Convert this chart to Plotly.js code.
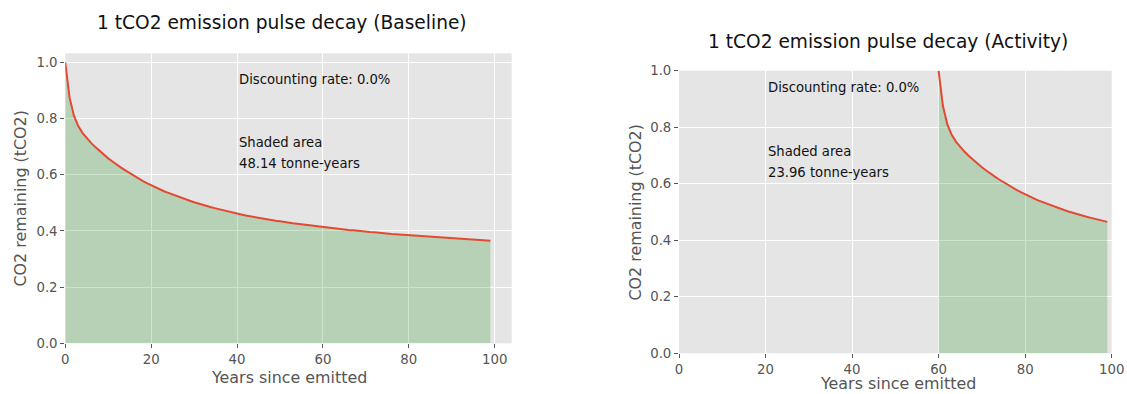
<!DOCTYPE html>
<html>
<head>
<meta charset="utf-8">
<script src="https://cdn.plot.ly/plotly-3.0.1.min.js"></script>
<style>html,body{margin:0;padding:0;background:#fff;}#chart{width:1127px;height:394px;}</style>
</head>
<body>
<div id="chart"></div>
<script>
// Baseline: years since emission and tCO2 remaining
const baselineYears = [0,1,2,3,4,5,6,7,8,9,10,11,12,13,14,15,16,17,18,19,20,21,22,23,24,25,26,27,28,29,30,31,32,33,34,35,36,37,38,39,40,41,42,43,44,45,46,47,48,49,50,51,52,53,54,55,56,57,58,59,60,61,62,63,64,65,66,67,68,69,70,71,72,73,74,75,76,77,78,79,80,81,82,83,84,85,86,87,88,89,90,91,92,93,94,95,96,97,98,99];
const baselineRemaining = [1.000,0.875,0.811,0.774,0.749,0.729,0.713,0.698,0.684,0.671,0.658,0.647,0.635,0.625,0.615,0.605,0.596,0.587,0.578,0.570,0.562,0.555,0.548,0.541,0.535,0.529,0.523,0.517,0.512,0.507,0.502,0.497,0.492,0.488,0.484,0.480,0.476,0.472,0.468,0.465,0.461,0.458,0.455,0.452,0.449,0.446,0.444,0.441,0.438,0.436,0.434,0.431,0.429,0.427,0.425,0.423,0.421,0.419,0.417,0.415,0.413,0.412,0.410,0.408,0.407,0.405,0.403,0.402,0.400,0.399,0.397,0.396,0.395,0.393,0.392,0.391,0.389,0.388,0.387,0.386,0.385,0.383,0.382,0.381,0.380,0.379,0.378,0.377,0.376,0.375,0.374,0.372,0.371,0.370,0.369,0.369,0.368,0.367,0.366,0.365];

// Activity: pulse emitted at year 60
const activityYears = [60,61,62,63,64,65,66,67,68,69,70,71,72,73,74,75,76,77,78,79,80,81,82,83,84,85,86,87,88,89,90,91,92,93,94,95,96,97,98,99];
const activityRemaining = [1.000,0.875,0.811,0.774,0.749,0.729,0.713,0.698,0.684,0.671,0.658,0.647,0.635,0.625,0.615,0.605,0.596,0.587,0.578,0.570,0.562,0.555,0.548,0.541,0.535,0.529,0.523,0.517,0.512,0.507,0.502,0.497,0.492,0.488,0.484,0.480,0.476,0.472,0.468,0.465];

const titles = ["1 tCO2 emission pulse decay (Baseline)", "1 tCO2 emission pulse decay (Activity)"];
const xTitle = "Years since emitted";
const yTitle = "CO2 remaining (tCO2)";
const discountText = "Discounting rate: 0.0%";
const shadedLabel = "Shaded area";
const shadedValues = ["48.14 tonne-years", "23.96 tonne-years"];
const xTickVals = [0,20,40,60,80,100];
const yTickVals = [0,0.2,0.4,0.6,0.8,1.0];

const FONT = "DejaVu Sans, Liberation Sans, sans-serif";
const lineColor = "#E24A33";
const fillColor = "rgba(0,128,0,0.2)";

const traces = [
  {x: baselineYears, y: baselineRemaining, xaxis: "x", yaxis: "y", type: "scatter", mode: "lines",
   line: {color: lineColor, width: 2}, fill: "tozeroy", fillcolor: fillColor, hoverinfo: "skip"},
  {x: activityYears, y: activityRemaining, xaxis: "x2", yaxis: "y2", type: "scatter", mode: "lines",
   line: {color: lineColor, width: 2}, fill: "tozeroy", fillcolor: fillColor, hoverinfo: "skip"}
];

function xax(domain, range, anchor) {
  return {domain: domain, range: range, anchor: anchor, tickvals: xTickVals, ticks: "outside", ticklen: 4,
    tickcolor: "#555", tickfont: {family: FONT, size: 13.3, color: "#555"}, gridcolor: "#fff", gridwidth: 1,
    showline: false, zeroline: false, fixedrange: true};
}
function yax(domain, range, anchor) {
  return {domain: domain, range: range, anchor: anchor, tickvals: yTickVals, tickformat: ".1f", ticks: "outside", ticklen: 4,
    tickcolor: "#555", tickfont: {family: FONT, size: 13.3, color: "#555"}, gridcolor: "#fff", gridwidth: 1,
    showline: false, zeroline: false, fixedrange: true};
}

const annFont = {family: FONT, size: 13.2, color: "#111"};
const axTitleFont = {family: FONT, size: 15.9, color: "#555"};
function paperAnn(text, px, py, font, angle) {
  return {text: text, xref: "paper", yref: "paper", x: px/1127, y: 1 - py/394, xanchor: "center", yanchor: "middle",
    showarrow: false, font: font, textangle: angle || 0};
}
const layout = {
  width: 1127, height: 394,
  margin: {l: 0, r: 0, t: 0, b: 0},
  paper_bgcolor: "#fff", plot_bgcolor: "#E5E5E5",
  showlegend: false,
  xaxis: xax([0.0579, 0.4540], [0, 103.95], "y"),
  yaxis: yax([0.1287, 0.8647], [0, 1.0318], "x"),
  xaxis2: xax([0.6025, 0.9864], [0, 100], "y2"),
  yaxis2: yax([0.1033, 0.8206], [0, 1], "x2"),
  annotations: [
    paperAnn(titles[0], 282, 22, {family: FONT, size: 18.6, color: "#111"}),
    paperAnn(titles[1], 888, 42, {family: FONT, size: 18.6, color: "#111"}),
    paperAnn(xTitle, 288.5, 377, axTitleFont),
    paperAnn(xTitle, 897.5, 383, axTitleFont),
    paperAnn(yTitle, 20, 198.5, axTitleFont, -90),
    paperAnn(yTitle, 635, 212.5, axTitleFont, -90),
    {text: discountText, xref: "x", yref: "y", x: 40, y: 0.94, xanchor: "left", yanchor: "middle", showarrow: false, font: annFont},
    {text: shadedLabel, xref: "x", yref: "y", x: 40, y: 0.716, xanchor: "left", yanchor: "middle", showarrow: false, font: annFont},
    {text: shadedValues[0], xref: "x", yref: "y", x: 40, y: 0.640, xanchor: "left", yanchor: "middle", showarrow: false, font: annFont},
    {text: discountText, xref: "x2", yref: "y2", x: 20, y: 0.94, xanchor: "left", yanchor: "middle", showarrow: false, font: annFont},
    {text: shadedLabel, xref: "x2", yref: "y2", x: 20, y: 0.713, xanchor: "left", yanchor: "middle", showarrow: false, font: annFont},
    {text: shadedValues[1], xref: "x2", yref: "y2", x: 20, y: 0.639, xanchor: "left", yanchor: "middle", showarrow: false, font: annFont}
  ]
};

Plotly.newPlot("chart", traces, layout, {displayModeBar: false, staticPlot: true});
</script>
</body>
</html>
